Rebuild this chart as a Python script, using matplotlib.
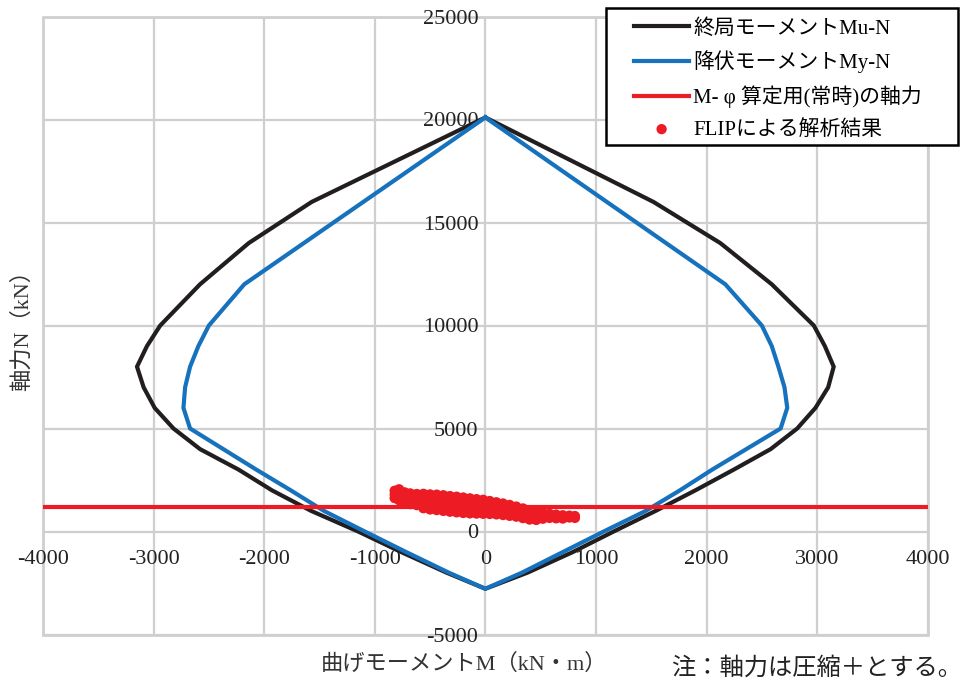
import matplotlib
matplotlib.use("Agg")
import matplotlib.pyplot as plt
from matplotlib.patches import Rectangle

plt.rcParams['font.family'] = ['Liberation Serif', 'Noto Sans CJK JP', 'DejaVu Sans']
plt.rcParams['axes.unicode_minus'] = False

# 終局モーメント Mu-N (kN・m, kN)
n_ult = [20100, 16000, 14000, 12000, 10000, 9000, 8000, 7000, 6000, 5000,
         4000, 3000, 2000, 1000, 0, -1000, -2000, -2780]
mu_pos = [0, 1520, 2125, 2590, 2970, 3070, 3150, 3100, 2985, 2820,
          2580, 2245, 1900, 1540, 1160, 790, 380, 0]
mu_neg = [0, -1570, -2140, -2580, -2940, -3060, -3150, -3090, -2990, -2820,
          -2580, -2230, -1930, -1575, -1150, -760, -350, 0]

# 降伏モーメント My-N
n_yld = [20100, 12000, 10000, 9000, 8000, 7000, 6000, 5000,
         4000, 3000, 2000, 1000, 0, -1000, -2000, -2780]
my_pos = [0, 2170, 2500, 2590, 2650, 2705, 2730, 2670,
          2360, 2050, 1760, 1450, 1070, 700, 330, 0]
my_neg = [0, -2180, -2500, -2595, -2670, -2715, -2730, -2670,
          -2370, -2070, -1760, -1460, -1090, -715, -330, 0]

# M-φ算定用(常時)の軸力
n_const = 1170

# FLIPによる解析結果 (M, N)
flip_m = [
    -820, -820, -820,
    -780, -780, -780, -780,
    -730, -730, -730, -730,
    -680, -680, -680, -680,
    -620, -620, -620, -620,
    -560, -560, -560, -560, -560,
    -500, -500, -500, -500, -500,
    -440, -440, -440, -440, -440,
    -380, -380, -380, -380, -380,
    -320, -320, -320, -320, -320,
    -260, -260, -260, -260, -260,
    -200, -200, -200, -200, -200,
    -140, -140, -140, -140, -140,
    -80, -80, -80, -80, -80,
    -20, -20, -20, -20, -20,
    40, 40, 40, 40, 40,
    100, 100, 100, 100, 100,
    160, 160, 160, 160, 160,
    220, 220, 220, 220, 220,
    280, 280, 280, 280, 280,
    340, 340, 340, 340, 340,
    400, 400, 400, 400, 400,
    460, 460, 460, 460, 460,
    520, 520, 520, 520,
    580, 580, 580,
    640, 640, 640,
    700, 700, 700,
    760, 760,
    810, 810,
]
flip_n = [
    1980, 1800, 1620,
    2050, 1880, 1700, 1520,
    1900, 1720, 1540, 1400,
    1850, 1680, 1500, 1330,
    1820, 1640, 1460, 1280,
    1830, 1650, 1460, 1280, 1130,
    1800, 1620, 1440, 1250, 1070,
    1790, 1600, 1420, 1230, 1040,
    1760, 1580, 1390, 1200, 1000,
    1720, 1540, 1360, 1170, 960,
    1690, 1510, 1330, 1140, 930,
    1650, 1480, 1300, 1100, 900,
    1610, 1450, 1280, 1080, 880,
    1570, 1420, 1250, 1060, 870,
    1540, 1380, 1220, 1040, 860,
    1480, 1330, 1180, 1010, 850,
    1420, 1280, 1130, 980, 830,
    1360, 1230, 1090, 940, 800,
    1290, 1160, 1030, 890, 760,
    1210, 1090, 970, 840, 720,
    1120, 1010, 900, 780, 650,
    1030, 930, 830, 700, 580,
    950, 860, 760, 640, 560,
    900, 800, 700, 620,
    860, 760, 660,
    820, 730, 640,
    790, 700, 630,
    770, 680,
    750, 660,
]

x_ticks = [-4000, -3000, -2000, -1000, 0, 1000, 2000, 3000, 4000]
y_ticks = [-5000, 0, 5000, 10000, 15000, 20000, 25000]

BLACK = '#221e1f'
BLUE = '#1772bd'
RED = '#ed1c24'
GRID = '#cfcfcf'

W, H = 968, 687
fig = plt.figure(figsize=(W / 100, H / 100), dpi=100)
ax = fig.add_axes([43 / W, 1 - 634.5 / H, 884.7 / W, 618 / H])
ax.set_xlim(-4000, 4000)
ax.set_ylim(-5000, 25000)
ax.set_xticks(x_ticks)
ax.set_yticks(y_ticks)

for side in ('top', 'right'):
    ax.spines[side].set_visible(False)
ax.spines['left'].set_position(('data', 0))
ax.spines['bottom'].set_position(('data', 0))
ax.spines['left'].set_visible(False)
ax.spines['bottom'].set_visible(False)
ax.grid(True, color=GRID, linewidth=1.6)
ax.set_axisbelow(True)
ax.tick_params(axis='both', length=0, labelsize=16, labelcolor='#222222')
ax.tick_params(axis='x', pad=13)
ax.tick_params(axis='y', pad=5)
ax.add_patch(Rectangle((0, 0), 1, 1, transform=ax.transAxes, fill=False,
                       edgecolor=GRID, linewidth=2, clip_on=False, zorder=0.5))

# closed interaction curves: right side downwards, left side upwards
ult_m = mu_pos + mu_neg[::-1]
ult_n = n_ult + n_ult[::-1]
yld_m = my_pos + my_neg[::-1]
yld_n = n_yld + n_yld[::-1]

ax.plot(ult_m, ult_n, color=BLACK, lw=3.0, solid_joinstyle='miter',
        label='終局モーメントMu-N', zorder=3)
ax.plot(yld_m, yld_n, color=BLUE, lw=3.0, solid_joinstyle='miter',
        label='降伏モーメントMy-N', zorder=4)
ax.plot([-4000, 4000], [n_const, n_const], color=RED, lw=3.0,
        label='M- φ 算定用(常時)の軸力', zorder=5)
ax.scatter(flip_m, flip_n, s=55, color=RED, edgecolors='none',
           label='FLIPによる解析結果', zorder=6)

# legend box drawn as a plain rectangle, entries placed inside it
ax.add_patch(Rectangle((606 / W, 1 - 145 / H), 352 / W, 137 / H,
                       transform=fig.transFigure, facecolor='white',
                       edgecolor='black', linewidth=1.8, clip_on=False,
                       zorder=9))
leg = ax.legend(loc='upper left', bbox_to_anchor=(634 / W, 1 - 19 / H),
                bbox_transform=fig.transFigure, borderaxespad=0, borderpad=0,
                fontsize=15, frameon=False, handlelength=2.65,
                handletextpad=0.2, labelspacing=0.57, scatterpoints=1)
leg.set_zorder(10)

fig.text(22 / W, 1 - 325 / H, '軸力N（kN）', rotation=90,
         ha='center', va='center', fontsize=16, color='#333333')
fig.text(464 / W, 1 - 664 / H, '曲げモーメントM（kN・m）',
         ha='center', va='center', fontsize=16, color='#333333')
fig.text(962 / W, 1 - 668 / H, '注：軸力は圧縮＋とする。',
         ha='right', va='center', fontsize=17.5, color='#222222')

fig.savefig('out.png', dpi=100)
